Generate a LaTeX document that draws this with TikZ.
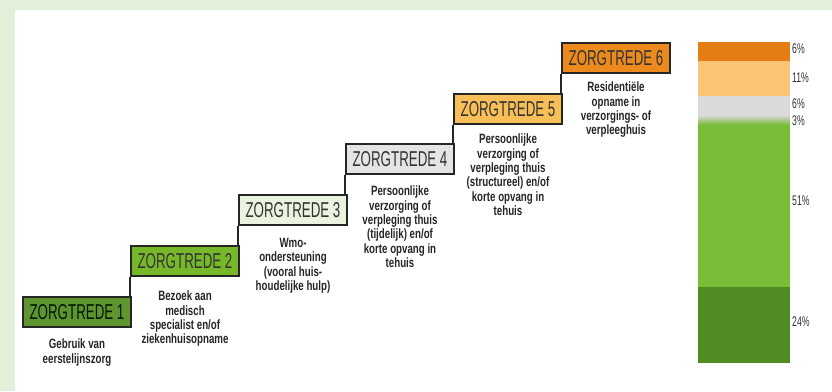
\documentclass[tikz,border=0pt]{standalone}
\usepackage{fontspec}
\setmainfont{Liberation Sans}[FakeStretch=0.72]
\newfontfamily\tredefont{Liberation Sans}[FakeStretch=0.62]
\usepackage{xcolor}
\usetikzlibrary{positioning}

\definecolor{framegreen}{HTML}{E2F0D9}
\definecolor{trede1}{HTML}{5F9530}
\definecolor{trede2}{HTML}{76B82A}
\definecolor{trede3}{HTML}{EAF3DE}
\definecolor{trede4}{HTML}{E4E4E4}
\definecolor{trede5}{HTML}{F8BE58}
\definecolor{trede6}{HTML}{EC8A1E}
\definecolor{barorange}{HTML}{E47E14}
\definecolor{barlight}{HTML}{FDC377}
\definecolor{bargray}{HTML}{DADADA}
\definecolor{bargreen}{HTML}{78BD38}
\definecolor{bardark}{HTML}{4F8C22}

\begin{document}
\begin{tikzpicture}[x=1pt,y=1pt,
          trede/.style={draw=black!85,line width=1.5pt,minimum width=108pt,minimum height=30pt,inner sep=0pt,text=black!80,font=\tredefont\fontsize{21.5}{21.5}\selectfont},
          uitleg/.style={align=center,inner sep=0pt,text=black!85,font=\fontsize{13.5}{14.4}\selectfont\bfseries},
          stair/.style={black!85,line width=1.6pt},
          pct/.style={anchor=west,inner sep=0pt,text=black!80,font=\tredefont\fontsize{14}{14}\selectfont}]
        % frame
        \fill[framegreen] (0,0) rectangle (832,391);
        \fill[white] (15,0) rectangle (832,381);
        % steps
        \node[trede,fill=trede1,text=black!90!green] (t1) at (77,79) {ZORGTREDE 1};
        \node[trede,fill=trede2] (t2) at (185,130) {ZORGTREDE 2};
        \node[trede,fill=trede3] (t3) at (293,181) {ZORGTREDE 3};
        \node[trede,fill=trede4] (t4) at (400,232) {ZORGTREDE 4};
        \node[trede,fill=trede5] (t5) at (508,282) {ZORGTREDE 5};
        \node[trede,fill=trede6] (t6) at (616,333) {ZORGTREDE 6};
        \draw[stair] (t2.south west) -- (t2.south west |- t1.north);
        \draw[stair] (t3.south west) -- (t3.south west |- t2.north);
        \draw[stair] (t4.south west) -- (t4.south west |- t3.north);
        \draw[stair] (t5.south west) -- (t5.south west |- t4.north);
        \draw[stair] (t6.south west) -- (t6.south west |- t5.north);
        % explanations
        \node[uitleg,below=11pt of t1] (u1) {Gebruik van\\eerstelijnszorg};
        \node[uitleg,below=14pt of t2] (u2) {Bezoek aan\\medisch\\specialist en/of\\ziekenhuisopname};
        \node[uitleg,below=12pt of t3] (u3) {Wmo-\\ondersteuning\\(vooral huis-\\houdelijke hulp)};
        \node[uitleg,below=11pt of t4] (u4) {Persoonlijke\\verzorging of\\verpleging thuis\\(tijdelijk) en/of\\korte opvang in\\tehuis};
        \node[uitleg,below=9pt of t5] (u5) {Persoonlijke\\verzorging of\\verpleging thuis\\(structureel) en/of\\korte opvang in\\tehuis};
        \node[uitleg,below=8pt of t6] (u6) {Residentiële\\opname in\\verzorgings- of\\verpleeghuis};
        % bar
        \fill[bardark] (698,28) rectangle (790,104.2);
        \fill[bargreen] (698,104.2) rectangle (790,266.3);
        \shade[bottom color=bargreen,top color=bargray] (698,266.3) rectangle (790,275.8);
        \fill[bargray] (698,275.8) rectangle (790,294.9);
        \fill[barlight] (698,294.9) rectangle (790,329.9);
        \fill[barorange] (698,329.9) rectangle (790,349);
        \node[pct] (p6) at (792,342) {6\%};
        \node[pct] (p5) at (792,313) {11\%};
        \node[pct] (p4) at (792,287) {6\%};
        \node[pct] (p3) at (792,270) {3\%};
        \node[pct] (p2) at (792,190) {51\%};
        \node[pct] (p1) at (792,69) {24\%};
      \end{tikzpicture}
\end{document}
